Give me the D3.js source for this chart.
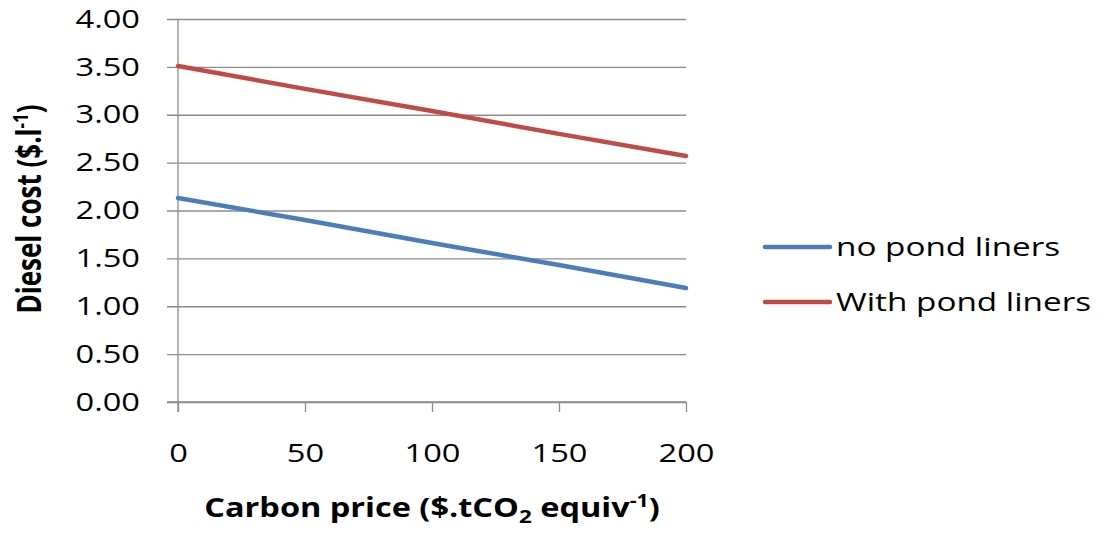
<!DOCTYPE html>
<html><head><meta charset="utf-8">
<script src="https://cdn.jsdelivr.net/npm/d3@7"></script>
<style>body{margin:0;background:#fff}svg{display:block}text{font-family:"Open Sans",sans-serif;fill:#000}</style>
</head><body>
<script>
const carbonPrice = [0, 50, 100, 150, 200];
const noPondLiners = [2.13, 1.90, 1.66, 1.43, 1.19];
const withPondLiners = [3.51, 3.27, 3.04, 2.80, 2.57];
const seriesNames = ["no pond liners", "With pond liners"];
const seriesColors = ["#4a7ebb", "#be4b48"];
const yTicks = [0, 0.5, 1, 1.5, 2, 2.5, 3, 3.5, 4];
const xTicks = [0, 50, 100, 150, 200];

const W = 1102, H = 533;
const SX = 1.28; // horizontal stretch of the reference text
const svg = d3.select("body").append("svg").attr("width", W).attr("height", H);
const x = d3.scaleLinear().domain([0, 200]).range([178, 686]);
const y = d3.scaleLinear().domain([0, 4]).range([402, 19]);
const grid = "#8c8c8c";

function stretch(sel, s) {
  sel.each(function () {
    const t = d3.select(this);
    const ax = +t.attr("x") || 0;
    const ay = +t.attr("y") || 0;
    t.attr("transform", `translate(${ax},${ay}) scale(${s},1) translate(${-ax},${-ay})`);
  });
}

// gridlines + y ticks
const yAxis = d3.axisLeft(y).tickValues(yTicks).tickFormat(d3.format(".2f")).tickSize(-(686 - 178)).tickPadding(38);
const gy = svg.append("g").attr("transform", "translate(178,0)").call(yAxis);
gy.select(".domain").remove();
gy.selectAll(".tick line").attr("stroke", grid).attr("stroke-width", 1.3).attr("x1", -11);
gy.selectAll(".tick text").attr("font-size", 25.5).attr("font-family", "Open Sans").attr("fill", "#000");
stretch(gy.selectAll(".tick text"), SX);

// x axis
const xAxis = d3.axisBottom(x).tickValues(xTicks).tickSize(10).tickPadding(32);
const gx = svg.append("g").attr("transform", "translate(0,402)").call(xAxis);
gx.select(".domain").remove();
gx.selectAll(".tick line").attr("stroke", grid).attr("stroke-width", 1.3);
gx.selectAll(".tick text").attr("font-size", 25.5).attr("font-family", "Open Sans").attr("fill", "#000");
stretch(gx.selectAll(".tick text"), SX);
// axis lines
svg.append("line").attr("x1", 178).attr("x2", 178).attr("y1", 19).attr("y2", 412).attr("stroke", grid).attr("stroke-width", 1.3);
svg.append("line").attr("x1", 167).attr("x2", 686).attr("y1", 402).attr("y2", 402).attr("stroke", grid).attr("stroke-width", 1.3);

// lines
const data = [noPondLiners, withPondLiners];
const line = d3.line().x((d, i) => x(carbonPrice[i])).y(d => y(d));
data.forEach((s, i) => {
  svg.append("path").datum(s).attr("d", line).attr("fill", "none")
    .attr("stroke", seriesColors[i]).attr("stroke-width", 4.5).attr("stroke-linecap", "round");
});

// legend
const leg = svg.append("g");
[247, 302].forEach((ly, i) => {
  leg.append("line").attr("x1", 765).attr("x2", 830).attr("y1", ly).attr("y2", ly)
    .attr("stroke", seriesColors[i]).attr("stroke-width", 4.5).attr("stroke-linecap", "round");
  const t = leg.append("text").attr("x", 836).attr("y", ly + 9).attr("font-size", 26).text(seriesNames[i]);
  stretch(t, SX);
});

// axis titles
const xt = svg.append("text").attr("x", 432).attr("y", 517).attr("text-anchor", "middle")
  .attr("font-size", 26).attr("font-weight", "bold");
xt.append("tspan").text("Carbon price ($.tCO");
xt.append("tspan").attr("font-size", 18).attr("dy", 6).text("2");
xt.append("tspan").attr("dy", -6).text(" equiv");
xt.append("tspan").attr("font-size", 17).attr("dy", -10).text("-1");
xt.append("tspan").attr("dy", 10).text(")");
stretch(xt, 1.25);

const yt = svg.append("text").attr("transform", `translate(41,209) scale(${SX},1) rotate(-90)`).attr("text-anchor", "middle")
  .attr("font-size", 26).attr("font-weight", "bold");
yt.append("tspan").text("Diesel cost ($.l");
yt.append("tspan").attr("font-size", 17).attr("dy", -10).text("-1");
yt.append("tspan").attr("dy", 10).text(")");
</script>
</body></html>
